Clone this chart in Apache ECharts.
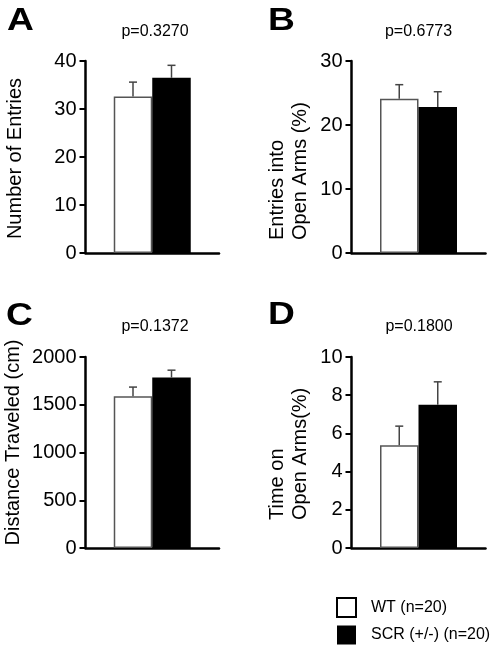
<!DOCTYPE html>
<html><head><meta charset="utf-8">
<script src="https://cdn.jsdelivr.net/npm/echarts@6/dist/echarts.min.js"></script>
<style>html,body{margin:0;padding:0;background:#fff}#c{width:496px;height:647px}</style>
</head><body><div id="c"></div>
<script>
const groups = ['WT (n=20)', 'SCR (+/-) (n=20)'];
const panelLetters = ['A', 'B', 'C', 'D'];
const pValues = ['p=0.3270', 'p=0.6773', 'p=0.1372', 'p=0.1800'];
const yTitles = ['Number of Entries', 'Entries into\nOpen Arms (%)', 'Distance Traveled (cm)', 'Time on\nOpen Arms(%)'];
const yMax = [40, 30, 2000, 10];
const yStep = [10, 10, 500, 2];
const wtMeans = [32.6, 24.1, 1590, 5.38];
const wtErrs = [3.0, 2.2, 95, 1.0];
const scrMeans = [36.5, 22.8, 1785, 7.5];
const scrErrs = [2.6, 2.4, 77, 1.2];

const FONT = '"Liberation Sans", Arial, Helvetica, sans-serif';
const BAR_W = 38.5;
const grids = [
  {left: 85.5, top: 61, width: 133.5, height: 192},
  {left: 351.5, top: 61, width: 134, height: 192},
  {left: 85.5, top: 357, width: 133.5, height: 191},
  {left: 351.5, top: 357, width: 134, height: 191}
];
const letterPos = [[7, 21], [268, 21], [6, 316], [268, 315]];
const pPos = [[155, 31.5], [418.5, 31.5], [155, 327], [419, 327]];
const titlePos = [
  {x: 15, y: 158.5, align: 'center'},
  {x: 289, y: 240, align: 'left'},
  {x: 13, y: 442.5, align: 'center'},
  {x: 289, y: 520, align: 'left'}
];

const xAxes = [], yAxes = [], series = [], graphics = [];
function errSeries(i, mean, err, offset) {
  return {
    type: 'custom', xAxisIndex: i, yAxisIndex: i, z: 5, silent: true,
    data: [[0, mean, err]],
    encode: {x: 0, y: 1},
    renderItem: function (params, api) {
      const base = api.coord([api.value(0), api.value(1)]);
      const top = api.coord([api.value(0), api.value(1) + api.value(2)]);
      const x = base[0] + offset;
      const st = {stroke: '#444', lineWidth: 1.5};
      return {type: 'group', children: [
        {type: 'line', shape: {x1: x, y1: base[1], x2: x, y2: top[1]}, style: st},
        {type: 'line', shape: {x1: x - 4, y1: top[1], x2: x + 4, y2: top[1]}, style: st}
      ]};
    }
  };
}
for (let i = 0; i < 4; i++) {
  xAxes.push({
    gridIndex: i, type: 'category', data: [''],
    axisLine: {lineStyle: {color: '#000', width: 2.5}},
    axisTick: {show: false}, axisLabel: {show: false}
  });
  yAxes.push({
    gridIndex: i, type: 'value', min: 0, max: yMax[i], interval: yStep[i],
    splitLine: {show: false},
    axisLine: {show: true, lineStyle: {color: '#000', width: 2.5}},
    axisTick: {show: true, length: 6, lineStyle: {color: '#000', width: 2}},
    axisLabel: {color: '#000', fontSize: 20, fontFamily: FONT, margin: 9,
      formatter: function (v) { return String(v); }}
  });
  series.push({
    name: groups[0], type: 'bar', xAxisIndex: i, yAxisIndex: i,
    data: [wtMeans[i]], barWidth: BAR_W, barGap: '0%',
    itemStyle: {color: '#fff', borderColor: '#555', borderWidth: 1.5}
  });
  series.push({
    name: groups[1], type: 'bar', xAxisIndex: i, yAxisIndex: i,
    data: [scrMeans[i]], barWidth: BAR_W, barGap: '0%',
    itemStyle: {color: '#000', borderColor: '#000', borderWidth: 0}
  });
  series.push(errSeries(i, wtMeans[i], wtErrs[i], -BAR_W / 2));
  series.push(errSeries(i, scrMeans[i], scrErrs[i], BAR_W / 2));

  graphics.push({
    type: 'text', x: letterPos[i][0], y: letterPos[i][1], scaleX: 1.2,
    style: {text: panelLetters[i], font: 'bold 31px ' + FONT, fill: '#000', textAlign: 'left', textVerticalAlign: 'middle'}
  });
  graphics.push({
    type: 'text', x: pPos[i][0], y: pPos[i][1],
    style: {text: pValues[i], font: '16px ' + FONT, fill: '#000', textAlign: 'center', textVerticalAlign: 'middle'}
  });
  graphics.push({
    type: 'text', x: titlePos[i].x, y: titlePos[i].y, rotation: Math.PI / 2,
    style: {text: yTitles[i], font: '20px ' + FONT, fill: '#000', lineHeight: 22.5,
      textAlign: titlePos[i].align, textVerticalAlign: 'middle'}
  });
}

const chart = echarts.init(document.getElementById('c'), null, {renderer: 'canvas'});
chart.setOption({
  animation: false,
  backgroundColor: '#fff',
  grid: grids,
  xAxis: xAxes,
  yAxis: yAxes,
  legend: {
    orient: 'vertical', left: 336, top: 597, padding: 0,
    itemWidth: 19, itemHeight: 19, itemGap: 7.5,
    textStyle: {fontSize: 16, fontFamily: FONT, color: '#000', padding: [0, 0, 0, 10]},
    data: [
      {name: groups[0], icon: 'rect', itemStyle: {color: '#fff', borderColor: '#000', borderWidth: 2}},
      {name: groups[1], icon: 'rect', itemStyle: {color: '#000', borderWidth: 0}}
    ]
  },
  graphic: graphics,
  series: series
});
</script>
</body></html>
